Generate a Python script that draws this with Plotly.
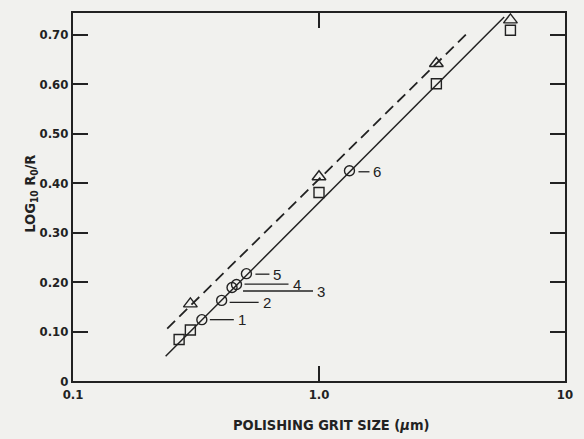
import math
import plotly.graph_objects as go

# ---- data ----
square_x = [0.27, 0.30, 1.0, 3.0, 6.0]
square_y = [0.084, 0.103, 0.381, 0.601, 0.709]

triangle_x = [0.30, 1.0, 3.0, 6.0]
triangle_y = [0.156, 0.413, 0.642, 0.730]

circle_x = [0.334, 0.402, 0.443, 0.462, 0.507, 1.33]
circle_y = [0.124, 0.163, 0.189, 0.195, 0.217, 0.425]
circle_labels = ["1", "2", "3", "4", "5", "6"]

solid_x = [0.238, 5.66]
solid_y = [0.050, 0.736]

dashed_x = [0.2415, 4.10]
dashed_y = [0.106, 0.708]

x_tickvals = [0.1, 1.0, 10]
x_ticktext = ["0.1", "1.0", "10"]
y_tickvals = [0, 0.10, 0.20, 0.30, 0.40, 0.50, 0.60, 0.70]
y_ticktext = ["0", "0.10", "0.20", "0.30", "0.40", "0.50", "0.60", "0.70"]

# leader-line geometry for the circle labels (pixels relative to circle centre)
leader_start = [8, 8, 11, 8, 9, 9]
leader_end = [32, 37, 81, 52, 23, 20]
leader_dy = [0, -2, -3.5, 0.5, -0.5, -1]

INK = "#222222"
BG = "#f1f1ee"
TICKFONT = dict(family="DejaVu Sans Condensed, Liberation Sans Narrow, Arial Narrow, sans-serif",
                size=13, color=INK, weight="bold")

fig = go.Figure()

fig.add_trace(go.Scatter(x=solid_x, y=solid_y, mode="lines",
                         line=dict(color=INK, width=1.5), showlegend=False, hoverinfo="skip"))
fig.add_trace(go.Scatter(x=dashed_x, y=dashed_y, mode="lines",
                         line=dict(color=INK, width=1.8, dash="11px,6px"), showlegend=False,
                         hoverinfo="skip"))
fig.add_trace(go.Scatter(x=square_x, y=square_y, mode="markers",
                         marker=dict(symbol="square-open", size=10, color=INK, line=dict(width=1.4)),
                         showlegend=False))
fig.add_trace(go.Scatter(x=triangle_x, y=triangle_y, mode="markers",
                         marker=dict(symbol="triangle-up-open", size=12, color=INK, line=dict(width=1.4)),
                         showlegend=False))
fig.add_trace(go.Scatter(x=circle_x, y=circle_y, mode="markers",
                         marker=dict(symbol="circle-open", size=10, color=INK, line=dict(width=1.4)),
                         showlegend=False))

shapes = []
annotations = []
for cx, cy, lab, s0, s1, dy in zip(circle_x, circle_y, circle_labels,
                                   leader_start, leader_end, leader_dy):
    shapes.append(dict(type="line", xref="x", yref="y",
                       xsizemode="pixel", ysizemode="pixel",
                       xanchor=cx, yanchor=cy,
                       x0=s0, x1=s1, y0=dy, y1=dy,
                       line=dict(color=INK, width=1.3)))
    annotations.append(dict(x=math.log10(cx), y=cy, xref="x", yref="y", text=lab, showarrow=False,
                            xanchor="left", yanchor="middle", xshift=s1 + 2, yshift=dy,
                            font=dict(family="Liberation Sans, Arial, sans-serif", size=15, color=INK)))

# axis titles
annotations.append(dict(x=0.524, y=-0.093, xref="paper", yref="paper", yanchor="top",
                        text="POLISHING GRIT SIZE (<i>\u00b5</i>m)", showarrow=False,
                        font=dict(family=TICKFONT["family"], size=14.5, color=INK, weight="bold")))
annotations.append(dict(x=-0.107, y=0.51, xref="paper", yref="paper", textangle=-90,
                        text="LOG<sub>10</sub> R<sub>0</sub>/R", showarrow=False,
                        font=dict(family=TICKFONT["family"], size=14.5, color=INK, weight="bold")))

fig.update_layout(
    width=584, height=439,
    margin=dict(l=73, r=12, t=11, b=58),
    paper_bgcolor=BG, plot_bgcolor=BG,
    shapes=shapes, annotations=annotations,
    showlegend=False,
)
fig.update_xaxes(type="log", range=[-1, 1], tickvals=x_tickvals, ticktext=x_ticktext,
                 ticks="inside", ticklen=15, tickwidth=1.6, tickcolor=INK,
                 showline=True, linewidth=2, linecolor=INK, mirror="ticks",
                 showgrid=False, zeroline=False, tickfont=TICKFONT)
fig.update_yaxes(range=[0, 0.744], tickvals=y_tickvals, ticktext=y_ticktext,
                 ticks="inside", ticklen=15, tickwidth=1.6, tickcolor=INK,
                 showline=True, linewidth=2, linecolor=INK, mirror="ticks",
                 showgrid=False, zeroline=False, tickfont=TICKFONT)

fig.write_html("out.html")
